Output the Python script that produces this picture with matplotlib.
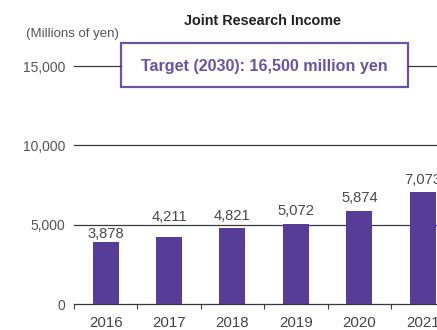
import matplotlib
matplotlib.use("Agg")
import matplotlib.pyplot as plt
from matplotlib.patches import Rectangle
import numpy as np

years = ["2016", "2017", "2018", "2019", "2020", "2021"]
income = [3878, 4211, 4821, 5072, 5874, 7073]
yticks = [0, 5000, 10000, 15000]
ytick_labels = ["0", "5,000", "10,000", "15,000"]
title = "Joint Research Income"
unit_label = "(Millions of yen)"
target_text = "Target (2030): 16,500 million yen"

# vertical gap (pixels) between each bar top and its value label,
# so labels stay clear of the 5,000 rule
label_gap_px = [4, 16, 8, 9, 8.5, 8]

plt.rcParams["font.family"] = ["Liberation Sans", "DejaVu Sans"]

W, H = 437, 330
fig = plt.figure(figsize=(W / 100, H / 100), dpi=100)

# axes in pixel coordinates: left 74, bottom 304, top at 15,000 line (66)
left, right, bottom, top = 74, 437, 304, 66
ax = fig.add_axes([left / W, 1 - bottom / H, (right - left) / W, (bottom - top) / H])

bar_color = "#573d97"
box_color = "#6a52a8"
grid_color = "#3a3a3a"
text_gray = "#555555"

x = np.arange(len(years))

# horizontal rules at 5,000 and 10,000 (15,000 drawn around the target box)
for v in yticks[1:3]:
    ax.axhline(v, color=grid_color, lw=0.9, zorder=1)

ax.bar(x, income, width=0.41, color=bar_color, zorder=3)

for xi, v, gap in zip(x, income, label_gap_px):
    ax.annotate(f"{v:,}", (xi, v), xytext=(0, gap), textcoords="offset pixels",
                ha="center", va="baseline", fontsize=10.6, color="#4a4a4a",
                zorder=4, annotation_clip=False)

# spines and ticks
for s in ["top", "right", "left"]:
    ax.spines[s].set_visible(False)
ax.spines["bottom"].set_color(grid_color)
ax.spines["bottom"].set_linewidth(0.9)

ax.set_xticks(x)
ax.set_xticklabels(years, fontsize=10.8, color="#444444")
ax.tick_params(axis="x", which="major", length=0, pad=8.5)
ax.set_xticks(np.arange(-0.5, 5.0, 1.0), minor=True)
ax.tick_params(axis="x", which="minor", length=3.5, width=0.8, color=grid_color,
               direction="out")

ax.set_yticks(yticks)
ax.set_yticklabels(ytick_labels, fontsize=10, color=text_gray)
ax.tick_params(axis="y", length=0, pad=6)

ax.set_xlim(-0.5, 5.226)
ax.set_ylim(0, 15000)

# 15,000 line, broken by the target box
box_l, box_r, box_t, box_b = 121, 408, 43, 87
y15 = 1 - 66 / H
fig.add_artist(plt.Line2D([left / W, box_l / W], [y15, y15], color=grid_color, lw=0.9))
fig.add_artist(plt.Line2D([box_r / W, 1.0], [y15, y15], color=grid_color, lw=0.9))

fig.add_artist(Rectangle((box_l / W, 1 - box_b / H), (box_r - box_l) / W,
                         (box_b - box_t) / H, transform=fig.transFigure,
                         facecolor="white", edgecolor=box_color, lw=1.6))
fig.text((box_l + box_r) / 2 / W, 1 - 67 / H, target_text, ha="center", va="center",
         fontsize=11.6, fontweight="bold", color=box_color)

fig.text(263 / W, 1 - 21 / H, title, ha="center", va="center",
         fontsize=10.4, fontweight="bold", color="#222222")
fig.text(26 / W, 1 - 34 / H, unit_label, ha="left", va="center",
         fontsize=9.5, color=text_gray)

fig.savefig("out.png", dpi=100)
